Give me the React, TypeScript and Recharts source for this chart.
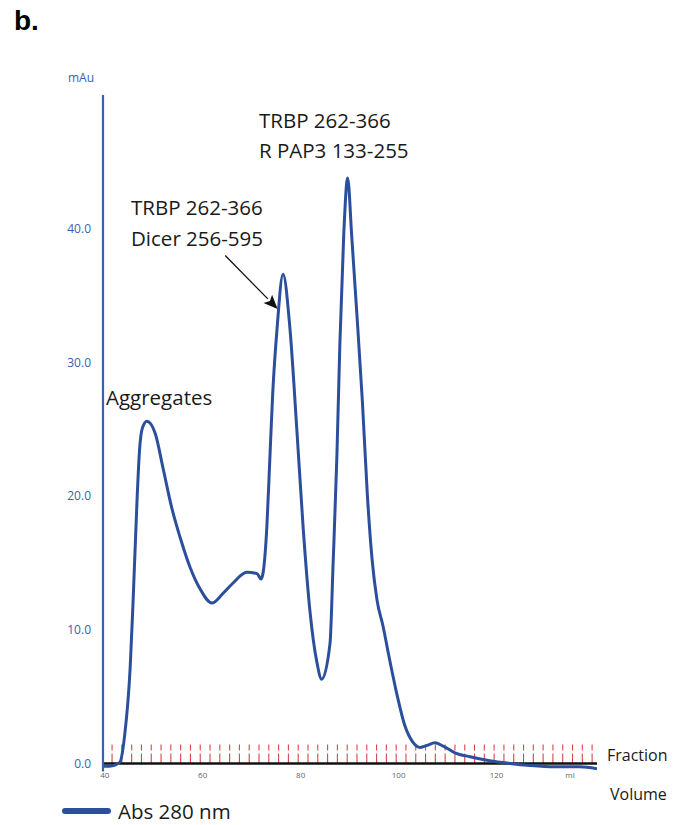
import { Line, LineChart, ReferenceLine, XAxis, YAxis } from 'recharts'

// Elution volume (ml) and absorbance at 280 nm (mAu)
const VOLUME = [
  39.7, 41.0, 42.2, 43.1, 44.1, 45.2, 45.8, 46.6, 47.1, 47.7, 48.6, 50.3, 51.9,
  53.7, 55.4, 57.4, 59.4, 61.9, 64.1, 66.2, 69.0, 71.1, 71.9, 72.3, 73.1, 73.7,
  74.3, 75.2, 76.4, 77.8, 79.2, 80.5, 81.9, 83.3, 84.3, 86.0, 86.6, 87.4, 88.0,
  88.8, 89.6, 90.4, 91.3, 92.6, 93.6, 94.6, 95.6, 96.8, 98.2, 99.7, 101.3, 102.9,
  104.4, 105.8, 107.4, 109.1, 111.5, 114.6, 118.6, 122.7, 126.8, 131.9, 137.0,
  140.5,
]
const ABS_280 = [
  -0.2, -0.2, -0.1, 0.1, 2.2, 7.2, 12.2, 19.7, 23.4, 25.1, 25.6, 24.7, 22.1, 19.1,
  16.9, 14.7, 13.1, 12.0, 12.7, 13.5, 14.3, 14.2, 13.8, 14.2, 17.7, 22.7, 27.7,
  32.6, 36.6, 32.6, 25.1, 17.7, 11.4, 7.6, 6.3, 9.0, 14.7, 23.0, 31.3, 39.6, 43.8,
  39.6, 34.6, 27.1, 20.2, 15.2, 12.2, 10.3, 7.7, 5.1, 2.8, 1.6, 1.2, 1.35, 1.55,
  1.3, 0.8, 0.5, 0.2, 0.0, -0.15, -0.25, -0.25, -0.4,
]

// Fraction collector marks, one every 2 ml
const FRACTIONS = [
  41.5, 43.5, 45.5, 47.5, 49.5, 51.5, 53.5, 55.5, 57.5, 59.5, 61.5, 63.5, 65.5,
  67.5, 69.5, 71.5, 73.5, 75.5, 77.5, 79.5, 81.5, 83.5, 85.5, 87.5, 89.5, 91.5,
  93.5, 95.5, 97.5, 99.5, 101.5, 103.5, 105.5, 107.5, 109.5, 111.5, 113.5, 115.5,
  117.5, 119.5, 121.5, 123.5, 125.5, 127.5, 129.5, 131.5, 133.5, 135.5, 137.5,
  139.5,
]

const X_TICKS = [40, 60, 80, 100, 120, 135]
const Y_TICKS = [0, 10, 20, 30, 40]

const FONT = '"Open Sans", sans-serif'
const TRACE = '#2b4f9c'
const AXIS_BLUE = '#3563b0'
const FRACTION_RED = '#d9464b'

const data = VOLUME.map((v, i) => ({ ml: v, abs: ABS_280[i] }))

// arrow drawn from the label towards the 2nd peak
function Arrow(props: any) {
  const { x1, y1, x2, y2 } = props
  const a = Math.atan2(y2 - y1, x2 - x1)
  const len = 14
  const w = 6
  const bx = x2 - len * Math.cos(a)
  const by = y2 - len * Math.sin(a)
  const px = -Math.sin(a) * w
  const py = Math.cos(a) * w
  return (
    <g>
      <line x1={x1} y1={y1} x2={bx} y2={by} stroke="#111" strokeWidth={1.3} />
      <polygon
        points={`${x2},${y2} ${bx + px},${by + py} ${bx + 3 * Math.cos(a)},${by + 3 * Math.sin(a)} ${bx - px},${by - py}`}
        fill="#111"
      />
    </g>
  )
}

export default function App() {
  return (
    <div
      style={{
        position: 'absolute',
        left: 0,
        top: 0,
        width: 675,
        height: 825,
        background: '#fff',
        fontFamily: FONT,
      }}
    >
      <LineChart
        width={675}
        height={825}
        data={data}
        margin={{ top: 95, right: 78, bottom: 0, left: 0 }}
      >
        <XAxis
          dataKey="ml"
          type="number"
          domain={[39.65, 140.5]}
          allowDataOverflow
          ticks={X_TICKS}
          tickFormatter={(v) => (v === 135 ? 'ml' : String(v))}
          height={53.5}
          axisLine={false}
          tickLine={false}
          tickSize={0}
          tickMargin={1}
          tick={{ fill: '#666', fontSize: 8, fontFamily: FONT }}
        />
        <YAxis
          type="number"
          domain={[-0.6, 50]}
          allowDataOverflow
          ticks={Y_TICKS}
          tickFormatter={(v) => Number(v).toFixed(1)}
          width={103}
          axisLine={{ stroke: AXIS_BLUE, strokeWidth: 2.2 }}
          tickLine={false}
          tickMargin={6}
          tick={{ fill: AXIS_BLUE, fontSize: 12, fontFamily: FONT }}
        />
        {FRACTIONS.map((f) => (
          <ReferenceLine
            key={f}
            segment={[
              { x: f, y: 1.42 },
              { x: f, y: 0 },
            ]}
            stroke={FRACTION_RED}
            strokeWidth={1.1}
            strokeDasharray="6 3 11"
          />
        ))}
        <ReferenceLine y={0} stroke="#111" strokeWidth={2.6} />
        <ReferenceLine
          segment={[
            { x: 64.6, y: 38.0 },
            { x: 75.3, y: 34.0 },
          ]}
          shape={Arrow}
        />
        <Line
          type="monotone"
          dataKey="abs"
          stroke={TRACE}
          strokeWidth={3}
          dot={false}
          isAnimationActive={false}
        />
      </LineChart>

      <svg
        width={675}
        height={825}
        style={{ position: 'absolute', left: 0, top: 0, pointerEvents: 'none' }}
      >
        <text x={14} y={30} fontFamily='"Liberation Sans", Arial, sans-serif' fontWeight="bold" fontSize={28} fill="#000">
          b.
        </text>
        <text x={68} y={82} fontFamily={FONT} fontSize={12} fill={AXIS_BLUE}>
          mAu
        </text>
        <g fontFamily={FONT} fontSize={20.5} fill="#1a1a1a">
          <text x={259} y={128}>TRBP 262-366</text>
          <text x={259} y={158}>R PAP3 133-255</text>
          <text x={131} y={215}>TRBP 262-366</text>
          <text x={131} y={246}>Dicer 256-595</text>
          <text x={106} y={405}>Aggregates</text>
          <text x={607} y={761} fontSize={16}>Fraction</text>
          <text x={610} y={800} fontSize={16}>Volume</text>
          <text x={118} y={819}>Abs 280 nm</text>
        </g>
        <line x1={65} y1={811} x2={108} y2={811} stroke={TRACE} strokeWidth={6} strokeLinecap="round" />
      </svg>
    </div>
  )
}
